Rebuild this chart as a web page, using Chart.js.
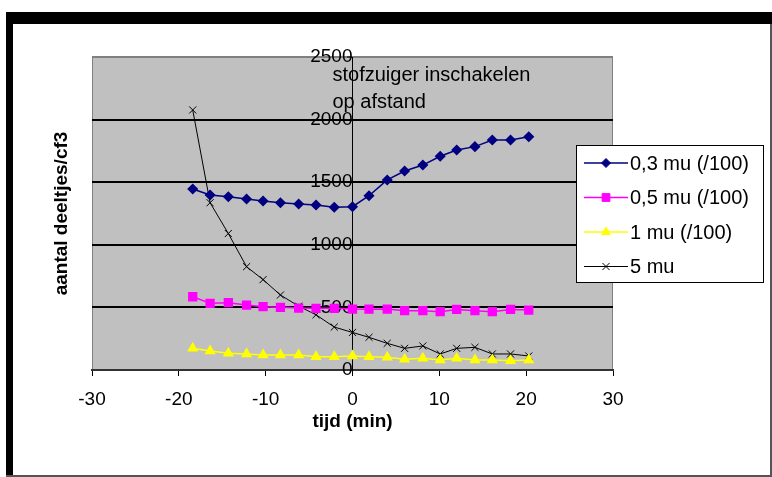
<!DOCTYPE html>
<html>
<head>
<meta charset="utf-8">
<script src="https://cdn.jsdelivr.net/npm/chart.js@4.4.0/dist/chart.umd.min.js"></script>
<style>
  html, body { margin: 0; padding: 0; background: #fff; }
  #wrap { width: 772px; height: 477px; position: relative; }
</style>
</head>
<body>
<div id="wrap"><canvas id="chartCanvas"></canvas></div>
<script>
// tijd (min) van elke meting
const times = [-18.4, -16.4, -14.3, -12.2, -10.3, -8.3, -6.2, -4.2, -2.1, 0,
               1.9, 4.0, 6.0, 8.1, 10.1, 12.0, 14.1, 16.1, 18.2, 20.3];
const mu03 = [1446, 1398, 1384, 1366, 1350, 1336, 1326, 1318, 1300, 1304,
              1392, 1518, 1589, 1637, 1707, 1757, 1784, 1837, 1837, 1863];
const mu05 = [585, 533, 538, 519, 506, 501, 495, 493, 493, 487,
              486, 487, 474, 474, 466, 484, 474, 466, 484, 479];
const mu1 = [173, 152, 133, 128, 120, 120, 120, 106, 106, 112,
             106, 101, 85, 93, 80, 93, 80, 80, 74, 80];
const mu5 = [2077, 1336, 1090, 825, 722, 599, 510, 441, 343, 300,
             261, 213, 173, 192, 128, 173, 181, 128, 128, 112];
const seriesLabels = ["0,3 mu (/100)", "0,5 mu (/100)", "1 mu (/100)", "5 mu"];
const xTicks = [-30, -20, -10, 0, 10, 20, 30];
const yTicks = [0, 500, 1000, 1500, 2000, 2500];
const note = ["stofzuiger inschakelen", "op afstand"];

const FONT = "'Liberation Sans', Arial, sans-serif";

function pts(values) {
    return times.map((t, i) => ({ x: t, y: values[i] }));
}

const frame = {
    id: "frame",
    beforeDraw(chart) {
        const { ctx, chartArea: a, width, height } = chart;
        ctx.save();
        ctx.fillStyle = "#fff";
        ctx.fillRect(0, 0, width, height);
        // zwarte rand van de schermafdruk
        ctx.fillStyle = "#000";
        ctx.fillRect(6, 12, width - 6, 12);
        ctx.fillRect(6, 12, 7, height - 12);
        ctx.fillStyle = "#555";
        ctx.fillRect(6, height - 2, width - 6, 2);
        ctx.fillRect(width - 2, 24, 2, height - 24);
        // grijs plotvlak
        ctx.fillStyle = "#c0c0c0";
        ctx.fillRect(a.left, a.top, a.right - a.left, a.bottom - a.top);
        ctx.strokeStyle = "#808080";
        ctx.lineWidth = 1;
        ctx.strokeRect(a.left + 0.5, a.top + 0.5, a.right - a.left - 1, a.bottom - a.top);
        ctx.restore();
    },
    afterDraw(chart) {
        const { ctx, chartArea: a } = chart;
        ctx.save();
        // tekst bij x = 0
        ctx.fillStyle = "#000";
        ctx.font = "20px " + FONT;
        ctx.textBaseline = "alphabetic";
        ctx.textAlign = "left";
        const nx = chart.scales.x.getPixelForValue(0) - 20;
        ctx.fillText(note[0], nx, a.top + 24);
        ctx.fillText(note[1], nx, a.top + 51);

        // legenda
        const bx = a.right - 37, by = a.top + 88, bw = 187, bh = 137;
        ctx.fillStyle = "#fff";
        ctx.fillRect(bx, by, bw, bh);
        ctx.strokeStyle = "#000";
        ctx.lineWidth = 1;
        ctx.strokeRect(bx + 0.5, by + 0.5, bw, bh);
        chart.data.datasets.forEach((ds, i) => {
            const y = by + 18 + i * 34.5;
            ctx.strokeStyle = ds.borderColor;
            ctx.lineWidth = ds.borderWidth;
            ctx.beginPath();
            ctx.moveTo(bx + 8, y);
            ctx.lineTo(bx + 52, y);
            ctx.stroke();
            ctx.fillStyle = ds.pointBackgroundColor;
            ctx.strokeStyle = ds.pointBorderColor;
            ctx.lineWidth = 1;
            Chart.helpers.drawPoint(ctx, {
                pointStyle: ds.pointStyle,
                radius: ds.pointRadius,
                rotation: 0,
                borderWidth: 1
            }, bx + 30, y);
            ctx.fillStyle = "#000";
            ctx.font = "20px " + FONT;
            ctx.textBaseline = "middle";
            ctx.fillText(ds.label, bx + 54, y + 1);
        });
        ctx.restore();
    }
};

const tickFont = { family: FONT, size: 19 };
const titleFont = { family: FONT, size: 19, weight: "bold" };

const ctx = document.getElementById("chartCanvas").getContext("2d");
const chart = new Chart(ctx, {
    type: "line",
    data: {
        datasets: [{
            label: seriesLabels[0],
            data: pts(mu03),
            borderColor: "#000080",
            backgroundColor: "#000080",
            pointBackgroundColor: "#000080",
            pointBorderColor: "#000080",
            pointStyle: "rectRot",
            pointRadius: 4.5,
            borderWidth: 1.5,
            tension: 0
        }, {
            label: seriesLabels[1],
            data: pts(mu05),
            borderColor: "#ff00ff",
            backgroundColor: "#ff00ff",
            pointBackgroundColor: "#ff00ff",
            pointBorderColor: "#ff00ff",
            pointStyle: "rect",
            pointRadius: 5.5,
            borderWidth: 1.5,
            tension: 0
        }, {
            label: seriesLabels[2],
            data: pts(mu1),
            borderColor: "#ffff00",
            backgroundColor: "#ffff00",
            pointBackgroundColor: "#ffff00",
            pointBorderColor: "#ffff00",
            pointStyle: "triangle",
            pointRadius: 5,
            borderWidth: 1.5,
            tension: 0
        }, {
            label: seriesLabels[3],
            data: pts(mu5),
            borderColor: "#000000",
            backgroundColor: "#000000",
            pointBackgroundColor: "#000000",
            pointBorderColor: "#000000",
            pointStyle: "crossRot",
            pointRadius: 5,
            pointBorderWidth: 1,
            borderWidth: 1,
            tension: 0
        }]
    },
    options: {
        responsive: true,
        maintainAspectRatio: false,
        animation: false,
        layout: { padding: { left: 0, right: 159, top: 57, bottom: 0 } },
        plugins: {
            legend: { display: false },
            tooltip: { enabled: false }
        },
        scales: {
            x: {
                type: "linear",
                position: "bottom",
                min: -30,
                max: 30,
                afterBuildTicks: s => { s.ticks = xTicks.map(v => ({ value: v })); },
                afterFit: s => { s.height = 107; },
                grid: { drawOnChartArea: false, tickLength: 6, color: "#000", tickColor: "#000" },
                border: { display: true, color: "#333", width: 2 },
                ticks: { padding: 12, color: "#000", font: tickFont, maxRotation: 0,
                         callback: v => String(v) },
                title: { display: true, text: "tijd (min)", color: "#000", font: titleFont,
                         padding: { top: 0, bottom: 44 } }
            },
            y: {
                type: "linear",
                position: { x: 0 },
                min: 0,
                max: 2500,
                afterBuildTicks: s => { s.ticks = yTicks.map(v => ({ value: v })); },
                grid: {
                    color: c => c.tick && c.tick.value === 2500 ? "#808080"
                              : (c.tick && c.tick.value === 0 ? "rgba(0,0,0,0)" : "#000"),
                    lineWidth: 2,
                    tickLength: 5,
                    tickColor: "#000",
                    tickWidth: 1
                },
                border: { display: true, color: "#000", width: 1 },
                ticks: { padding: 12, color: "#000", font: tickFont, callback: v => String(v) }
            },
            yt: {
                type: "linear",
                position: "left",
                afterFit: s => { s.width = 92; },
                ticks: { display: false },
                grid: { display: false },
                border: { display: false },
                title: { display: true, text: "aantal deeltjes/cf3", color: "#000", font: titleFont,
                         padding: { top: 50, bottom: 0 } }
            }
        }
    },
    plugins: [frame]
});
</script>
</body>
</html>
